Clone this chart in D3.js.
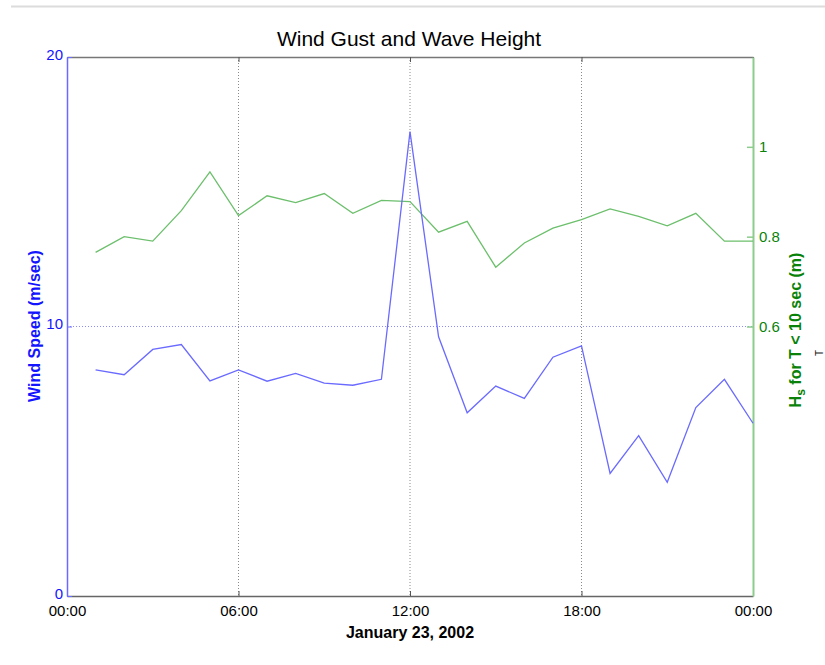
<!DOCTYPE html>
<html>
<head>
<meta charset="utf-8">
<script src="https://cdn.jsdelivr.net/npm/d3@7"></script>
<style>
  html, body { margin: 0; padding: 0; background: #fff; }
  svg { display: block; font-family: "Liberation Sans", Arial, sans-serif; }
</style>
</head>
<body>
<svg id="chart" width="825" height="665"></svg>
<script>
// Hourly observations, January 23, 2002 (hour 1 .. 24)
const hours = [1,2,3,4,5,6,7,8,9,10,11,12,13,14,15,16,17,18,19,20,21,22,23,24];
const windGust = [8.39,8.21,9.15,9.33,7.98,8.39,7.97,8.26,7.90,7.82,8.04,17.23,
                  9.62,6.80,7.79,7.33,8.86,9.28,4.55,5.95,4.22,6.99,8.04,6.41];
const waveHeight = [0.765,0.800,0.790,0.858,0.944,0.847,0.891,0.876,0.896,0.852,0.881,0.878,
                    0.810,0.834,0.732,0.786,0.819,0.838,0.862,0.845,0.824,0.852,0.790,0.790];

const timeTicks = [0,6,12,18,24];
const timeTickLabels = ["00:00","06:00","12:00","18:00","00:00"];
const windTicks = [0,10,20];
const waveTicks = [0.6,0.8,1];

const svg = d3.select("#chart");
const plotL = 67, plotR = 753, plotT = 57, plotB = 596;

const x = d3.scaleLinear().domain([0,24]).range([plotL,plotR]);
const yWind = d3.scaleLinear().domain([0,20]).range([plotB,plotT]);
const yWave = d3.scaleLinear().domain([0,1.2]).range([plotB,plotT]);

const blueLine = "#6a6aff", blueText = "#1414ff";
const greenLine = "#6cbf6c", greenAxis = "#8ccc8c", greenText = "#0a820a";
const fontFam = "Liberation Sans, Arial, sans-serif";

// page rule along the top
svg.append("line").attr("x1",11).attr("x2",825).attr("y1",6.5).attr("y2",6.5)
  .attr("stroke","#dcdcdc").attr("stroke-width",2);

// title
svg.append("text").attr("x",409).attr("y",46).attr("text-anchor","middle")
  .attr("font-size",21).attr("fill","#000").text("Wind Gust and Wave Height");

// vertical dotted grid lines
svg.append("g").selectAll("line").data(timeTicks.slice(1,4)).join("line")
  .attr("x1",d=>x(d)).attr("x2",d=>x(d)).attr("y1",plotT).attr("y2",plotB)
  .attr("stroke","#8a8a8a").attr("stroke-width",1).attr("stroke-dasharray","1,2");

// horizontal dotted grid line at 10 m/s
svg.append("line").attr("x1",plotL).attr("x2",plotR).attr("y1",yWind(10)).attr("y2",yWind(10))
  .attr("stroke","#8c8cff").attr("stroke-width",1).attr("stroke-dasharray","1,2");

// bottom time axis
const xAxis = d3.axisBottom(x).tickValues(timeTicks)
  .tickFormat((d,i)=>timeTickLabels[i]).tickSizeInner(-5).tickSizeOuter(0).tickPadding(9);
const gx = svg.append("g").attr("transform",`translate(0,${plotB})`).call(xAxis);
gx.select(".domain").attr("stroke","#666").attr("stroke-width",1.5);
gx.selectAll(".tick line").attr("stroke","#555");
gx.selectAll(".tick text").attr("font-size",15).attr("fill","#000").attr("font-family",fontFam);

// top frame with inward ticks
const xTop = d3.axisTop(x).tickValues(timeTicks).tickFormat("").tickSizeInner(-5).tickSizeOuter(0);
const gt = svg.append("g").attr("transform",`translate(0,${plotT})`).call(xTop);
gt.select(".domain").attr("stroke","#777").attr("stroke-width",1.5);
gt.selectAll(".tick line").attr("stroke","#555");

// left wind axis
const yAxisL = d3.axisLeft(yWind).tickValues(windTicks).tickSizeInner(-5).tickSizeOuter(0).tickPadding(4);
const gl = svg.append("g").attr("transform",`translate(${plotL},0)`).call(yAxisL);
gl.select(".domain").attr("stroke",blueLine).attr("stroke-width",1.5);
gl.selectAll(".tick line").attr("stroke",blueLine);
gl.selectAll(".tick text").attr("font-size",15).attr("fill",blueText).attr("font-family",fontFam)
  .attr("dy","0.15em");

// right wave axis
const yAxisR = d3.axisRight(yWave).tickValues(waveTicks).tickSizeInner(-6).tickSizeOuter(0).tickPadding(6)
  .tickFormat(d3.format("~g"));
const gr = svg.append("g").attr("transform",`translate(${plotR},0)`).call(yAxisR);
gr.select(".domain").attr("stroke",greenAxis).attr("stroke-width",2);
gr.selectAll(".tick line").attr("stroke",greenAxis).attr("stroke-width",1.5);
gr.selectAll(".tick text").attr("font-size",15).attr("fill",greenText).attr("font-family",fontFam);

// series lines
const windLine = d3.line().x((d,i)=>x(hours[i])).y(d=>yWind(d));
const waveLine = d3.line().x((d,i)=>x(hours[i])).y(d=>yWave(d));

svg.append("path").datum(waveHeight).attr("d",waveLine)
  .attr("fill","none").attr("stroke",greenLine).attr("stroke-width",1.3);
svg.append("path").datum(windGust).attr("d",windLine)
  .attr("fill","none").attr("stroke",blueLine).attr("stroke-width",1.3);

// axis titles
svg.append("text").attr("transform","translate(40,326) rotate(-90)")
  .attr("text-anchor","middle").attr("font-size",16).attr("font-weight","bold")
  .attr("fill",blueText).text("Wind Speed (m/sec)");

const rl = svg.append("text").attr("transform","translate(801,330) rotate(-90)")
  .attr("text-anchor","middle").attr("font-size",16).attr("font-weight","bold")
  .attr("fill",greenText);
rl.append("tspan").text("H");
rl.append("tspan").attr("dy",4).attr("font-size",12).text("s");
rl.append("tspan").attr("dy",-4).text(" for T < 10 sec (m)");

svg.append("text").attr("x",410).attr("y",638).attr("text-anchor","middle")
  .attr("font-size",16).attr("font-weight","bold").attr("fill","#000")
  .text("January 23, 2002");

// small stray mark at the right edge
svg.append("text").attr("transform","translate(823,353) rotate(-90)")
  .attr("text-anchor","middle").attr("font-size",10).attr("fill","#222").text("T");
</script>
</body>
</html>
